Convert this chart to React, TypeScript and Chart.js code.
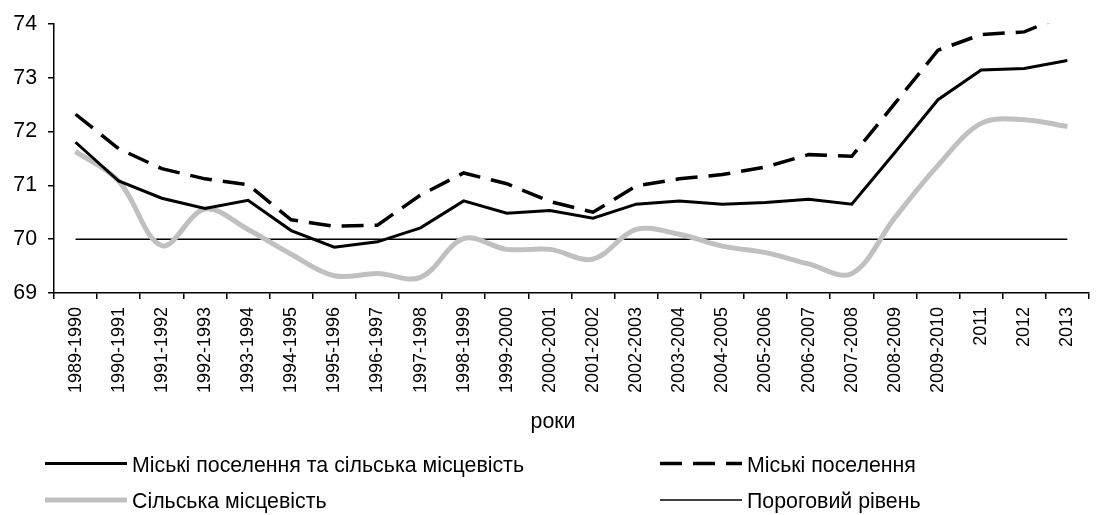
import React, { useEffect, useRef } from 'react';
import { Chart, registerables } from 'chart.js';

Chart.register(...registerables);

const categories = [
  '1989-1990', '1990-1991', '1991-1992', '1992-1993', '1993-1994', '1994-1995',
  '1995-1996', '1996-1997', '1997-1998', '1998-1999', '1999-2000', '2000-2001',
  '2001-2002', '2002-2003', '2003-2004', '2004-2005', '2005-2006', '2006-2007',
  '2007-2008', '2008-2009', '2009-2010', '2011', '2012', '2013',
];

const totalValues = [
  71.80, 71.08, 70.76, 70.57, 70.72, 70.16, 69.85, 69.95, 70.21, 70.71, 70.48, 70.53,
  70.39, 70.65, 70.71, 70.65, 70.68, 70.74, 70.65, 71.61, 72.59, 73.14, 73.17, 73.32,
];

const urbanValues = [
  72.32, 71.68, 71.31, 71.12, 71.01, 70.36, 70.24, 70.26, 70.82, 71.23, 71.03, 70.70,
  70.50, 70.99, 71.12, 71.20, 71.34, 71.57, 71.54, 72.52, 73.51, 73.80, 73.85, 74.18,
];

const ruralValues = [
  71.63, 71.08, 69.88, 70.56, 70.18, 69.72, 69.32, 69.36, 69.29, 70.01, 69.81, 69.81,
  69.63, 70.18, 70.09, 69.87, 69.75, 69.54, 69.36, 70.40, 71.37, 72.15, 72.22, 72.09,
];

const thresholdValues = [
  70, 70, 70, 70, 70, 70, 70, 70, 70, 70, 70, 70,
  70, 70, 70, 70, 70, 70, 70, 70, 70, 70, 70, 70,
];

const seriesNames = [
  'Міські поселення та сільська місцевість',
  'Міські поселення',
  'Сільська місцевість',
  'Пороговий рівень',
];

const axisTitle = 'роки';
const yMin = 69;
const yMax = 74;

const FONT = 'Arial, "Liberation Sans", Helvetica, sans-serif';
const BIG = 21.33;

const customLegend = {
  id: 'customLegend',
  afterDraw(chart: any) {
    const ctx = chart.ctx;
    ctx.save();
    ctx.fillStyle = '#000';
    ctx.font = `${BIG}px ${FONT}`;
    ctx.textAlign = 'center';
    ctx.textBaseline = 'alphabetic';
    ctx.fillText(axisTitle, 553, 428);

    const slots = [
      { x: 45, y: 463.5, ds: 0 },
      { x: 660, y: 463.5, ds: 1 },
      { x: 45, y: 500, ds: 2 },
      { x: 660, y: 500, ds: 3 },
    ];
    ctx.textAlign = 'left';
    for (const s of slots) {
      const d = chart.data.datasets[s.ds];
      ctx.save();
      ctx.strokeStyle = d.borderColor;
      ctx.lineWidth = d.borderWidth;
      ctx.setLineDash(d.borderDash || []);
      ctx.lineCap = 'butt';
      ctx.beginPath();
      ctx.moveTo(s.x, s.y);
      ctx.lineTo(s.x + 82, s.y);
      ctx.stroke();
      ctx.restore();
      ctx.fillStyle = '#000';
      ctx.fillText(d.label, s.x + 87, s.y + 8);
    }
    ctx.restore();
  },
};

export default function App() {
  const ref = useRef<HTMLCanvasElement | null>(null);

  useEffect(() => {
    if (!ref.current) return;
    const chart = new Chart(ref.current, {
      type: 'line',
      data: {
        labels: categories,
        datasets: [
          {
            label: seriesNames[0],
            data: totalValues,
            borderColor: '#000000',
            borderWidth: 3,
            pointRadius: 0,
            tension: 0,
          },
          {
            label: seriesNames[1],
            data: urbanValues,
            borderColor: '#000000',
            borderWidth: 3.5,
            borderDash: [22, 11],
            pointRadius: 0,
            tension: 0,
          },
          {
            label: seriesNames[2],
            data: ruralValues,
            borderColor: '#c0c0c0',
            borderWidth: 5,
            pointRadius: 0,
            tension: 0.35,
          },
          {
            label: seriesNames[3],
            data: thresholdValues,
            borderColor: '#000000',
            borderWidth: 1.5,
            pointRadius: 0,
            tension: 0,
          },
        ],
      },
      options: {
        animation: false,
        responsive: false,
        layout: { padding: { top: 20, right: 1, left: 0, bottom: 0 } },
        plugins: {
          legend: { display: false },
          tooltip: { enabled: false },
        },
        scales: {
          x: {
            offset: true,
            grid: {
              offset: true,
              drawOnChartArea: false,
              drawTicks: true,
              tickLength: 6,
              color: '#000',
              lineWidth: 1.5,
            },
            border: { color: '#000', width: 1.5 },
            ticks: {
              color: '#000',
              font: { family: FONT, size: 18 },
              minRotation: 90,
              maxRotation: 90,
              autoSkip: false,
              padding: 8,
            },
            afterFit(scale: any) {
              scale.height = 222;
            },
          },
          y: {
            min: yMin,
            max: yMax,
            grid: {
              drawOnChartArea: false,
              drawTicks: true,
              tickLength: 6,
              color: '#000',
              lineWidth: 1.5,
            },
            border: { color: '#000', width: 1.5 },
            ticks: {
              stepSize: 1,
              color: '#000',
              font: { family: FONT, size: BIG },
              padding: 11,
            },
            afterFit(scale: any) {
              scale.width = 54;
            },
          },
        },
      },
      plugins: [customLegend],
    });
    return () => chart.destroy();
  }, []);

  return (
    <div style={{ position: 'fixed', left: 0, top: 0, width: 1097, height: 515, background: '#fff' }}>
      <canvas ref={ref} width={1097} height={515} />
    </div>
  );
}
